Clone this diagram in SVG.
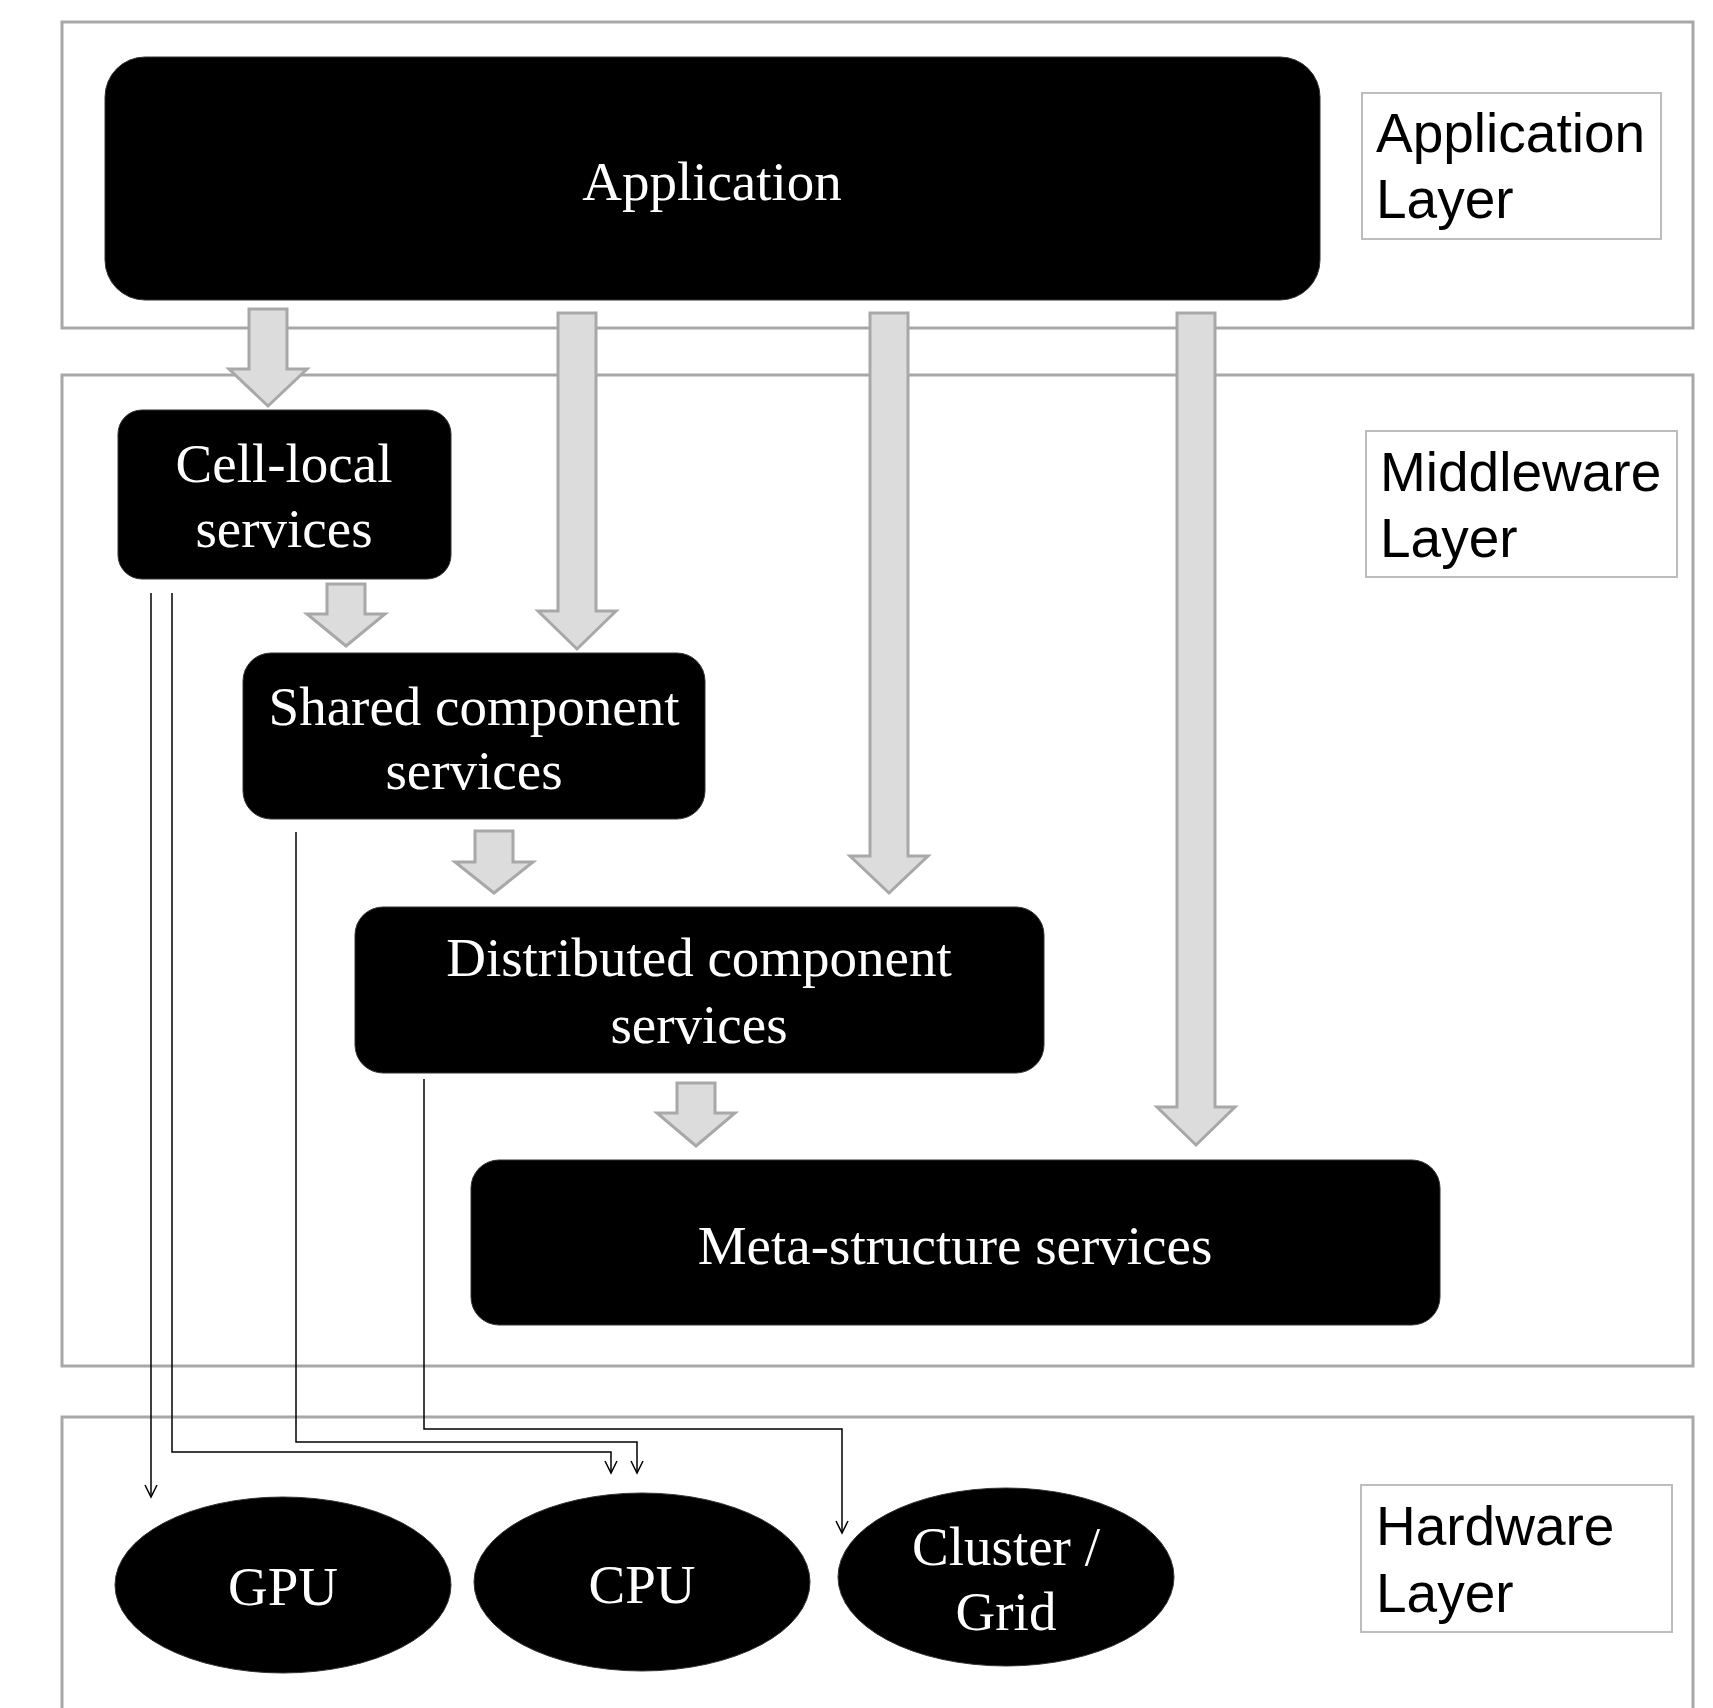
<svg xmlns="http://www.w3.org/2000/svg" width="1713" height="1708" viewBox="0 0 1713 1708">
<style>
.layer{fill:none;stroke:#a8a8a8;stroke-width:3}
.lbl{fill:#fff;stroke:#bdbdbd;stroke-width:2}
.lbltxt{font-family:"Liberation Sans",Arial,sans-serif;font-size:55px;fill:#000}
.node{fill:#000;stroke:#333;stroke-width:1}
.ntxt{font-family:"Liberation Serif","Times New Roman",serif;font-size:55px;fill:#fff;text-anchor:middle}
.big{fill:#dcdcdc;stroke:#a8a8a8;stroke-width:3;stroke-linejoin:miter}
.wire{fill:none;stroke:#000;stroke-width:1.5}
</style>
<defs>
<marker id="open" viewBox="-1 -8 15 16" markerWidth="15" markerHeight="16" refX="12" refY="0" orient="auto" markerUnits="userSpaceOnUse">
<path d="M0,-6 L12,0 L0,6" fill="none" stroke="#000" stroke-width="1.5"/>
</marker>
</defs>
<rect width="1713" height="1708" fill="#fff"/>
<g id="layers">
<rect id="app-layer" class="layer" x="62" y="22" width="1631" height="306"/>
<rect id="mid-layer" class="layer" x="62" y="375" width="1631" height="991"/>
<rect id="hw-layer" class="layer" x="62" y="1417" width="1631" height="320"/>
</g>
<g id="layer-labels">
<g id="lbl-app"><rect class="lbl" x="1362" y="93" width="299" height="146"/>
<text class="lbltxt" x="1376" y="152">Application</text><text class="lbltxt" x="1376" y="218">Layer</text></g>
<g id="lbl-mid"><rect class="lbl" x="1366" y="431" width="311" height="146"/>
<text class="lbltxt" x="1380" y="491">Middleware</text><text class="lbltxt" x="1380" y="557">Layer</text></g>
<g id="lbl-hw"><rect class="lbl" x="1361" y="1485" width="311" height="147"/>
<text class="lbltxt" x="1376" y="1545">Hardware</text><text class="lbltxt" x="1376" y="1612">Layer</text></g>
</g>
<g id="application"><rect class="node" x="105" y="57" width="1215" height="243" rx="40"/>
<text class="ntxt" x="712" y="200">Application</text></g>
<g id="cell-local"><rect class="node" x="118" y="410" width="333" height="169" rx="24"/>
<text class="ntxt" x="284" y="482">Cell-local</text><text class="ntxt" x="284" y="547">services</text></g>
<g id="shared"><rect class="node" x="243" y="653" width="462" height="166" rx="28"/>
<text class="ntxt" x="474" y="725">Shared component</text><text class="ntxt" x="474" y="789">services</text></g>
<g id="distributed"><rect class="node" x="355" y="907" width="689" height="166" rx="28"/>
<text class="ntxt" x="699" y="976">Distributed component</text><text class="ntxt" x="699" y="1043">services</text></g>
<g id="meta"><rect class="node" x="471" y="1160" width="969" height="165" rx="28"/>
<text class="ntxt" x="955" y="1264">Meta-structure services</text></g>
<g id="gpu"><ellipse class="node" cx="283" cy="1585" rx="168" ry="88"/>
<text class="ntxt" x="283" y="1605">GPU</text></g>
<g id="cpu"><ellipse class="node" cx="642" cy="1582" rx="168" ry="89"/>
<text class="ntxt" x="642" y="1603">CPU</text></g>
<g id="cluster"><ellipse class="node" cx="1006" cy="1577" rx="168" ry="89"/>
<text class="ntxt" x="1006" y="1565">Cluster /</text><text class="ntxt" x="1006" y="1630">Grid</text></g>
<g id="connectors">
<path class="big" d="M249,309 H287 V369 H307 L268,406 L229,369 H249 Z"/>
<path class="big" d="M558,313 H596 V611 H616 L577,649 L538,611 H558 Z"/>
<path class="big" d="M870,313 H908 V856 H928 L889,893 L850,856 H870 Z"/>
<path class="big" d="M1177,313 H1215 V1107 H1235 L1196,1145 L1157,1107 H1177 Z"/>
<path class="big" d="M327,584 H365 V614 H385 L346,646 L307,614 H327 Z"/>
<path class="big" d="M475,831 H513 V862 H533 L494,893 L455,862 H475 Z"/>
<path class="big" d="M677,1083 H715 V1113 H735 L696,1146 L657,1113 H677 Z"/>
<path class="wire" d="M151,593 V1497" marker-end="url(#open)"/>
<path class="wire" d="M172,593 V1452 H611 V1473" marker-end="url(#open)"/>
<path class="wire" d="M296,832 V1442 H637 V1473" marker-end="url(#open)"/>
<path class="wire" d="M424,1079 V1429 H842 V1533" marker-end="url(#open)"/>
</g>
</svg>
